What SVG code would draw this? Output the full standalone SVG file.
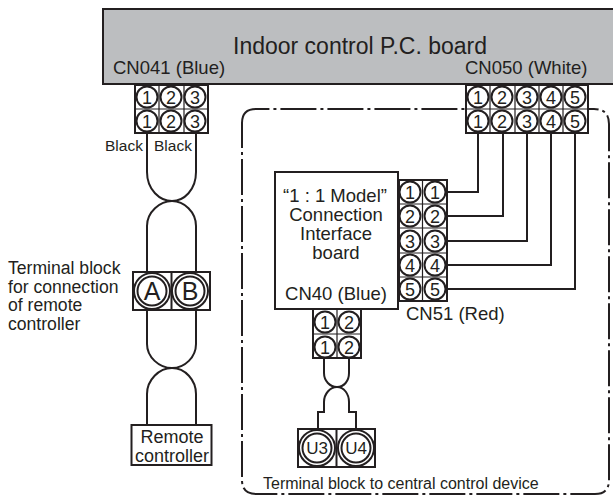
<svg xmlns="http://www.w3.org/2000/svg" width="613" height="495" viewBox="0 0 613 495">
<style>
text{font-family:"Liberation Sans",Arial,sans-serif;fill:#231f20;font-size:18px}
.m{text-anchor:middle}
.b{fill:#fff;stroke:#231f20;stroke-width:2}
.g{fill:none;stroke:#231f20;stroke-width:1.2}
.w{fill:none;stroke:#231f20;stroke-width:2}
.c{fill:#fff;stroke:#231f20;stroke-width:2}
.n{font-size:18px;text-anchor:middle}
.t{font-size:25px;text-anchor:middle}
.u{font-size:17px;text-anchor:middle}
.s{font-size:15.500px}
.l{font-size:17.600px}
.x{font-size:18.500px}
</style>
<rect width="613" height="495" fill="#fff"/>
<g id="connectors">
<path class="w" d="M242 123Q242 109 256 109H594Q609 109 609 124V480Q609 494 595 494H256Q242 494 242 480Z" stroke-dasharray="36 4 3 4"/>
<path class="w" d="M147 133V172C147 190 160 201 172 201C184 201 196 190 196 172V133"/>
<path class="w" d="M147 272V226C147 212 160 201 172 201C184 201 196 212 196 226V272"/>
<path class="w" d="M147 310V344C147 357 159 368 172 368C185 368 196 357 196 344V310"/>
<path class="w" d="M147 425V394C147 380 159 368 172 368C185 368 196 380 196 394V425"/>
<path class="w" d="M447 192H478V133M447 216H503V133M447 241H527V133M447 265H551V133M447 289H575V133"/>
<path class="w" d="M324 358V373C324 381 330 387 337 387C344 387 349 381 349 373V358"/>
<path class="w" d="M318 429V412H324V402C324 394 330 387 337 387C344 387 349 394 349 402V412H356V429"/>
</g>
<g id="board">
<rect x="103" y="9" width="512" height="75" fill="#bcbec0" stroke="#231f20" stroke-width="2"/>
<text x="233" y="54" style="font-size:23px">Indoor control P.C. board</text>
<text class="x" x="113" y="74">CN041 (Blue)</text>
<text class="x" x="465" y="74">CN050 (White)</text>
</g>
<g id="cn041">
<rect class="b" x="135" y="85" width="73" height="48"/>
<path class="g" d="M135 109H208M159 85V133M184 85V133"/>
<g class="c"><circle cx="147" cy="97" r="10.500"/><circle cx="171" cy="97" r="10.500"/><circle cx="195" cy="97" r="10.500"/><circle cx="147" cy="121" r="10.500"/><circle cx="171" cy="121" r="10.500"/><circle cx="195" cy="121" r="10.500"/></g>
<text class="n" x="147" y="103.500">1</text><text class="n" x="171" y="103.500">2</text><text class="n" x="195" y="103.500">3</text>
<text class="n" x="147" y="127.500">1</text><text class="n" x="171" y="127.500">2</text><text class="n" x="195" y="127.500">3</text>
</g>
<g id="cn050">
<rect class="b" x="466" y="85" width="122" height="48"/>
<path class="g" d="M466 109H588M490 85V133M515 85V133M539 85V133M563 85V133"/>
<g class="c"><circle cx="478" cy="97" r="10.500"/><circle cx="502" cy="97" r="10.500"/><circle cx="527" cy="97" r="10.500"/><circle cx="551" cy="97" r="10.500"/><circle cx="575" cy="97" r="10.500"/><circle cx="478" cy="121" r="10.500"/><circle cx="502" cy="121" r="10.500"/><circle cx="527" cy="121" r="10.500"/><circle cx="551" cy="121" r="10.500"/><circle cx="575" cy="121" r="10.500"/></g>
<text class="n" x="478" y="103.500">1</text><text class="n" x="502" y="103.500">2</text><text class="n" x="527" y="103.500">3</text><text class="n" x="551" y="103.500">4</text><text class="n" x="575" y="103.500">5</text>
<text class="n" x="478" y="127.500">1</text><text class="n" x="502" y="127.500">2</text><text class="n" x="527" y="127.500">3</text><text class="n" x="551" y="127.500">4</text><text class="n" x="575" y="127.500">5</text>
</g>
<g id="labels-black">
<text class="s" x="105" y="151">Black</text>
<text class="s" x="154" y="151">Black</text>
</g>
<g id="terminal-label">
<text class="l" x="8" y="274">Terminal block</text>
<text class="l" x="8" y="292.500">for connection</text>
<text class="l" x="8" y="311">of remote</text>
<text class="l" x="8" y="329.500">controller</text>
</g>
<g id="terminal-ab">
<rect class="b" x="133" y="272" width="77" height="38"/>
<path class="w" d="M171.500 272V310"/>
<g class="c"><circle cx="152" cy="291" r="18"/><circle cx="152" cy="291" r="14.500"/><circle cx="190" cy="291" r="18"/><circle cx="190" cy="291" r="14.500"/></g>
<text class="t" x="152" y="300">A</text><text class="t" x="190" y="300">B</text>
</g>
<g id="remote">
<rect class="b" x="131.500" y="425" width="80" height="40"/>
<text class="m" x="172" y="443">Remote</text>
<text class="m" x="172" y="462">controller</text>
</g>
<g id="interface">
<rect class="b" x="275" y="172" width="123" height="137"/>
<text class="m x" x="335" y="202">“1 : 1 Model”</text>
<text class="m x" x="336" y="221">Connection</text>
<text class="m x" x="336" y="240">Interface</text>
<text class="m x" x="336" y="258.500">board</text>
<text class="m x" x="336" y="300">CN40 (Blue)</text>
</g>
<g id="cn51">
<rect class="b" x="399" y="180" width="48" height="121"/>
<path class="g" d="M422.500 180V301M399 204H447M399 228H447M399 253H447M399 277H447"/>
<g class="c"><circle cx="410" cy="192" r="10.500"/><circle cx="435" cy="192" r="10.500"/><circle cx="410" cy="216" r="10.500"/><circle cx="435" cy="216" r="10.500"/><circle cx="410" cy="241" r="10.500"/><circle cx="435" cy="241" r="10.500"/><circle cx="410" cy="265" r="10.500"/><circle cx="435" cy="265" r="10.500"/><circle cx="410" cy="289" r="10.500"/><circle cx="435" cy="289" r="10.500"/></g>
<text class="n" x="410" y="198.500">1</text><text class="n" x="435" y="198.500">1</text><text class="n" x="410" y="222.500">2</text><text class="n" x="435" y="222.500">2</text><text class="n" x="410" y="247.500">3</text><text class="n" x="435" y="247.500">3</text><text class="n" x="410" y="271.500">4</text><text class="n" x="435" y="271.500">4</text><text class="n" x="410" y="295.500">5</text><text class="n" x="435" y="295.500">5</text>
<text class="x" x="406" y="320">CN51 (Red)</text>
</g>
<g id="cn40">
<rect class="b" x="313" y="309" width="48" height="49"/>
<path class="g" d="M313 334H361M337 309V358"/>
<g class="c"><circle cx="325" cy="322" r="10.500"/><circle cx="349" cy="322" r="10.500"/><circle cx="325" cy="347" r="10.500"/><circle cx="349" cy="347" r="10.500"/></g>
<text class="n" x="325" y="328.500">1</text><text class="n" x="349" y="328.500">2</text><text class="n" x="325" y="353.500">1</text><text class="n" x="349" y="353.500">2</text>
</g>
<g id="terminal-u">
<rect class="b" x="298" y="429" width="77" height="38"/>
<path class="w" d="M336.500 429V467"/>
<g class="c"><circle cx="317" cy="448" r="18"/><circle cx="317" cy="448" r="14.500"/><circle cx="356" cy="448" r="18"/><circle cx="356" cy="448" r="14.500"/></g>
<text class="u" x="317" y="454">U3</text><text class="u" x="356" y="454">U4</text>
</g>
<text x="263" y="489" style="font-size:16px">Terminal block to central control device</text>
</svg>
